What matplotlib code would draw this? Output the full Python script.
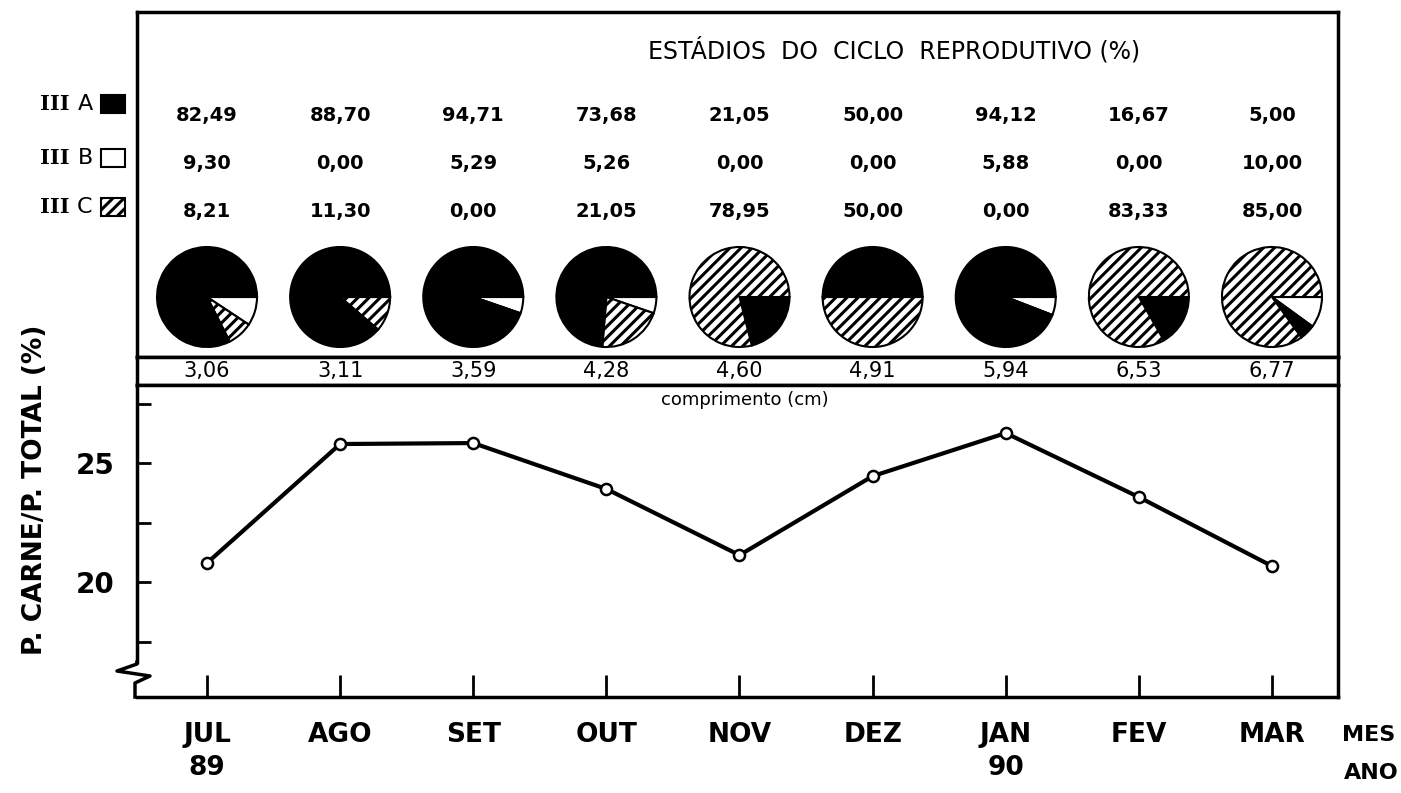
import numpy as np
import matplotlib
matplotlib.use('Agg')
import matplotlib.pyplot as plt
from matplotlib.patches import Rectangle

# data
months = ['JUL\n89', 'AGO', 'SET', 'OUT', 'NOV', 'DEZ', 'JAN\n90', 'FEV', 'MAR']
ratio = [20.80, 25.80, 25.84, 23.91, 21.13, 24.45, 26.26, 23.57, 20.67]   # P. carne / P. total (%)
stage_a = [82.49, 88.70, 94.71, 73.68, 21.05, 50.00, 94.12, 16.67, 5.00]
stage_b = [9.30, 0.00, 5.29, 5.26, 0.00, 0.00, 5.88, 0.00, 10.00]
stage_c = [8.21, 11.30, 0.00, 21.05, 78.95, 50.00, 0.00, 83.33, 85.00]
length_cm = [3.06, 3.11, 3.59, 4.28, 4.60, 4.91, 5.94, 6.53, 6.77]
stage_names = ['A', 'B', 'C']
stage_colors = ['black', 'white', 'white']
stage_hatch = ['', '', '///']


def br(v):
    # decimal comma, as in the original
    return f'{v:.2f}'.replace('.', ',')


plt.rcParams['hatch.linewidth'] = 2.2
plt.rcParams['font.family'] = 'DejaVu Sans'

fig = plt.figure(figsize=(14.01, 7.93), dpi=100)
W, H = 1401, 793
L, R = 137, 1338


def box(top, bottom):
    return [L / W, (H - bottom) / H, (R - L) / W, (bottom - top) / H]


ax_top = fig.add_axes(box(12, 357))
ax_len = fig.add_axes(box(357, 385))
ax = fig.add_axes(box(385, 697))

x = np.arange(len(months))
xlim = (-0.526, 8.496)
unit = (R - L) / (xlim[1] - xlim[0])     # pixels per x unit

# ---- top panel: pies + percentages
for i in x:
    vals = [stage_a[i], stage_b[i], stage_c[i]]
    big = int(np.argmax(vals))
    # small slices clockwise from 3 o'clock, biggest one fills the rest
    order = [1] + [k for k in (0, 2) if k != big]
    if big != 1:
        order.append(big)
    else:
        order = [0, 2, 1]
    ax_top.pie([vals[k] for k in order],
               colors=[stage_colors[k] for k in order],
               hatch=[stage_hatch[k] for k in order],
               startangle=0, counterclock=False,
               center=(i, 60 / unit), radius=50 / unit, frame=True,
               wedgeprops=dict(edgecolor='black', linewidth=1.5))

row_y = [115, 164, 211]
for vals, ry in zip([stage_a, stage_b, stage_c], row_y):
    for i, v in zip(x, vals):
        ax_top.text(i, (357 - ry) / unit, br(v), ha='center', va='center',
                    fontsize=14, fontweight='bold')

ax_top.text(0.63, 0.89, 'ESTÁDIOS  DO  CICLO  REPRODUTIVO (%)', transform=ax_top.transAxes,
            ha='center', va='center', fontsize=17)
ax_top.set_xlim(*xlim)
ax_top.set_ylim(0, 345 / unit)
ax_top.set_aspect('auto')
ax_top.set_xticks([])
ax_top.set_yticks([])

# legend on the left, outside the box
leg_y = [104, 158, 207]
for name, col, hat, ly in zip(stage_names, stage_colors, stage_hatch, leg_y):
    fy = (H - ly) / H
    fig.text(55 / W, fy, 'III', family='DejaVu Serif', fontweight='bold',
             fontsize=15, ha='center', va='center')
    fig.text(85 / W, fy, name, fontsize=16, ha='center', va='center')
    fig.add_artist(Rectangle((101 / W, fy - 9 / H), 24 / W, 18 / H, transform=fig.transFigure,
                             facecolor=col, edgecolor='black', hatch=hat, linewidth=1.5))

# ---- length strip
for i, v in zip(x, length_cm):
    ax_len.text(i, 0.5, br(v), ha='center', va='center', fontsize=15)
ax_len.set_xlim(*xlim)
ax_len.set_ylim(0, 1)
ax_len.set_xticks([])
ax_len.set_yticks([])

# ---- main line chart
ax.plot(x, ratio, color='black', linewidth=3, marker='o', markersize=8,
        markerfacecolor='white', markeredgecolor='black', markeredgewidth=1.8)
ax.set_xlim(*xlim)
ax.set_ylim(15.17, 28.28)
ax.set_xticks(x)
ax.set_xticklabels(months, fontsize=19, fontweight='bold', linespacing=1.35)
ax.set_yticks([20, 25])
ax.set_yticklabels(['20', '25'], fontsize=20, fontweight='bold')
ax.set_yticks([17.5, 22.5, 27.5], minor=True)
ax.tick_params(axis='x', direction='in', length=16, width=2, pad=18)
ax.tick_params(axis='y', which='both', direction='in', length=10, width=2, pad=16)
ax.text(0.506, 0.952, 'comprimento (cm)', transform=ax.transAxes,
        ha='center', va='center', fontsize=13)

# axis break at the bottom of the y axis
ax.spines['left'].set_bounds(ax.get_ylim()[0] + 35 / 23.8, ax.get_ylim()[1])
bx = np.array([137, 137, 117, 150, 135, 135])
by = np.array([662, 664, 671, 676, 683, 697])
ax.plot((bx - L) / (R - L), (697 - by) / 312, color='black', linewidth=2.5,
        transform=ax.transAxes, clip_on=False)

for a in (ax_top, ax_len, ax):
    for s in a.spines.values():
        s.set_linewidth(2.5)

fig.text(1369 / W, (H - 735) / H, 'MES', fontsize=16, fontweight='bold', ha='center', va='center')
fig.text(1371 / W, (H - 773) / H, 'ANO', fontsize=16, fontweight='bold', ha='center', va='center')
fig.text(35 / W, (H - 490) / H, 'P. CARNE/P. TOTAL (%)', rotation=90, fontsize=19,
         fontweight='bold', ha='center', va='center')

fig.savefig('out.png', dpi=100)
